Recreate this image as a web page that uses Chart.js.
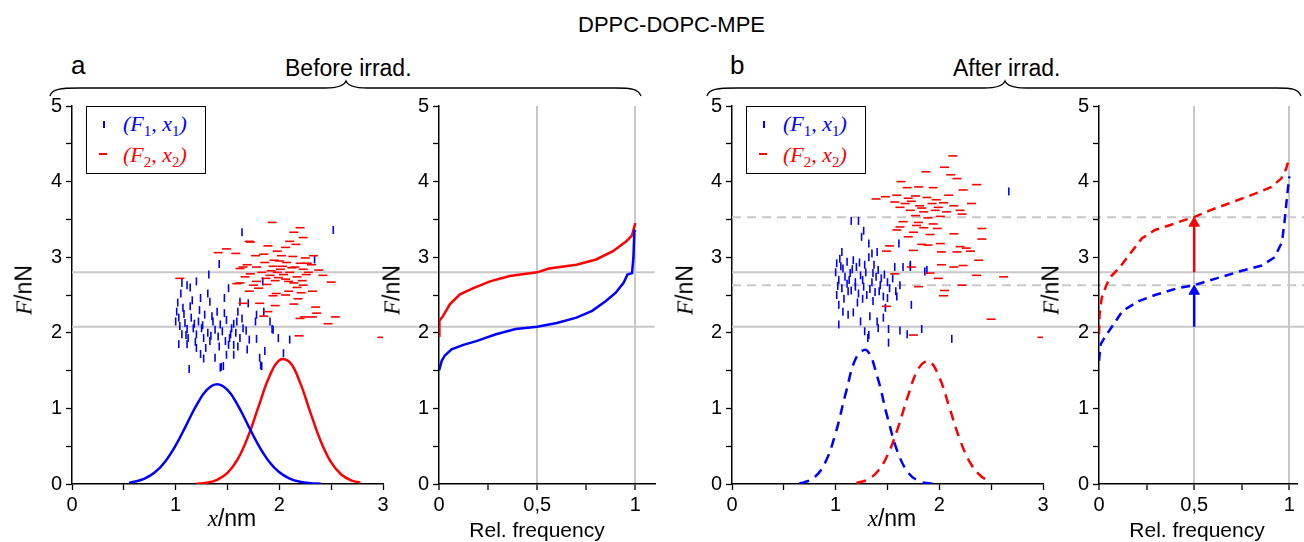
<!DOCTYPE html>
<html>
<head>
<meta charset="utf-8">
<script src="https://cdn.jsdelivr.net/npm/chart.js@4.4.1/dist/chart.umd.min.js"></script>
<style>
  body { margin: 0; width: 1304px; height: 542px; background: #fff; position: relative; overflow: hidden;
         font-family: "Liberation Sans", Arial, sans-serif; color: #000; }
  .abs { position: absolute; }
  .lbl { position: absolute; line-height: 1; white-space: nowrap; }
  .serif { font-family: "Liberation Serif", "Times New Roman", serif; font-style: italic; }
  .ytitle { transform: translate(-50%, -50%) rotate(-90deg); font-size: 23px; }
  .xtitle { transform: translateX(-50%); }
  .legend { position: absolute; width: 118px; height: 66px; border: 1.3px solid #000; background: #fff; }
  .legend .row { position: absolute; left: 36px; font-size: 22px; line-height: 1; }
  .legend sub { font-style: normal; font-size: 15px; vertical-align: -5px; }
  .mk1 { position: absolute; left: 16px; top: 14px; width: 2px; height: 7px; background: #0000ff; }
  .mk2 { position: absolute; left: 12px; top: 46px; width: 8px; height: 2px; background: #ff0000; }
</style>
</head>
<body>

<div class="lbl" style="left:578px; top:14px; font-size:22px;">DPPC-DOPC-MPE</div>
<div class="lbl" style="left:71px; top:52px; font-size:26px;">a</div>
<div class="lbl" style="left:730px; top:52px; font-size:26px;">b</div>
<div class="lbl" style="left:285px; top:57px; font-size:23px;">Before irrad.</div>
<div class="lbl" style="left:953px; top:57px; font-size:23px;">After irrad.</div>

<svg class="abs" style="left:0; top:0;" width="1304" height="542">
  <path d="M50,96 C52,89 60,88 80,88 L325,88 C338,88 344,86 346,81 C348,86 354,88 367,88 L615,88 C632,88 638,89 641,96"
        fill="none" stroke="#000" stroke-width="1.3"/>
  <path d="M707,96 C709,89 717,88 737,88 L984,88 C997,88 1003,86 1005,81 C1007,86 1013,88 1026,88 L1276,88 C1293,88 1298,89 1301,96"
        fill="none" stroke="#000" stroke-width="1.3"/>
</svg>

<div class="abs" style="left:0; top:90px;"><canvas id="aLeft" width="660" height="440"></canvas></div>
<div class="abs" style="left:390px; top:90px;"><canvas id="aRight" width="270" height="440"></canvas></div>
<div class="abs" style="left:680px; top:90px;"><canvas id="bLeft" width="624" height="440"></canvas></div>
<div class="abs" style="left:1050px; top:90px;"><canvas id="bRight" width="254" height="440"></canvas></div>

<div class="legend" style="left:86px; top:106px;">
  <div class="mk1"></div><div class="row serif" style="top:6px; color:#0000ff;">(F<sub>1</sub>, x<sub>1</sub>)</div>
  <div class="mk2"></div><div class="row serif" style="top:37px; color:#ff0000;">(F<sub>2</sub>, x<sub>2</sub>)</div>
</div>
<div class="legend" style="left:746px; top:106px;">
  <div class="mk1"></div><div class="row serif" style="top:6px; color:#0000ff;">(F<sub>1</sub>, x<sub>1</sub>)</div>
  <div class="mk2"></div><div class="row serif" style="top:37px; color:#ff0000;">(F<sub>2</sub>, x<sub>2</sub>)</div>
</div>

<div class="lbl ytitle" style="left:24px; top:290px;"><span class="serif">F</span>/nN</div>
<div class="lbl ytitle" style="left:392px; top:290px;"><span class="serif">F</span>/nN</div>
<div class="lbl ytitle" style="left:685px; top:290px;"><span class="serif">F</span>/nN</div>
<div class="lbl ytitle" style="left:1051px; top:290px;"><span class="serif">F</span>/nN</div>
<div class="lbl xtitle" style="left:232px; top:507px; font-size:23px;"><span class="serif">x</span>/nm</div>
<div class="lbl xtitle" style="left:892px; top:507px; font-size:23px;"><span class="serif">x</span>/nm</div>
<div class="lbl xtitle" style="left:537px; top:519px; font-size:21px;">Rel. frequency</div>
<div class="lbl xtitle" style="left:1197px; top:519px; font-size:21px;">Rel. frequency</div>

<script>
// ---- data ----
// reference force levels (nN)
const aSolidLevels = [2.08, 2.80];
const bSolidLevels = [2.08, 2.80];
const bDashedLevels = [2.63, 3.53];

// single events [x (nm), F (nN)], panel a (before irradiation)
const aF1 = [[1.64,3.33],[2.52,3.36],[2.34,2.97],[1.42,2.91],[1.32,2.77],[1.84,2.68],[1.20,2.68],[1.06,2.66],[1.11,2.63],[1.14,2.60],[1.51,2.59],[1.47,2.46],[1.31,2.52],[1.24,2.46],[1.33,2.41],[1.62,2.41],[1.70,2.39],[1.60,2.28],[1.78,2.24],[1.85,2.28],[1.91,2.15],[1.94,2.04],[1.99,1.93],[2.10,1.91],[1.86,1.76],[1.81,1.67],[1.82,1.57],[1.71,1.91],[1.78,1.92],[1.69,1.78],[1.56,1.71],[1.49,1.71],[1.44,1.55],[1.46,1.56],[1.27,1.66],[1.13,1.52],[1.03,1.85],[1.11,1.85],[1.20,1.80],[1.38,1.67],[2.04,1.73],[1.01,2.28],[1.03,2.20],[1.04,2.09],[1.06,1.98],[1.07,2.33],[1.09,2.13],[1.11,2.05],[1.12,1.93],[1.15,2.20],[1.17,2.06],[1.20,1.98],[1.22,2.15],[1.25,2.06],[1.27,1.93],[1.28,2.24],[1.31,2.00],[1.33,1.89],[1.36,2.15],[1.38,2.04],[1.40,2.28],[1.41,1.95],[1.43,2.11],[1.45,2.02],[1.48,1.89],[1.49,2.17],[1.52,1.93],[1.54,2.06],[1.56,1.84],[1.58,2.00],[1.59,2.15],[1.62,1.93],[1.65,2.06],[1.51,1.84],[1.29,1.80],[1.64,2.19],[1.77,2.15],[1.43,1.54],[1.93,2.05],[1.83,1.56],[1.02,2.40],[1.05,2.52],[1.08,2.25],[1.14,2.35],[1.18,2.12],[1.23,2.30],[1.35,2.22],[1.47,2.26],[1.56,2.12],[1.68,2.03],[1.10,1.97],[1.19,1.88],[1.26,2.10],[1.34,1.96],[1.42,1.82],[1.53,1.98],[1.60,1.82],[1.00,2.15],[1.16,2.43],[1.24,1.72]];
const aF2 = [[1.93,3.46],[2.20,3.39],[2.14,3.33],[2.23,3.26],[1.71,3.21],[2.10,3.21],[2.16,3.17],[1.89,3.15],[2.06,3.13],[1.49,3.11],[1.98,3.08],[1.41,3.06],[1.58,3.05],[2.33,3.02],[1.77,3.02],[1.85,3.04],[2.02,3.02],[2.13,3.01],[2.25,2.99],[1.95,2.96],[1.86,2.93],[2.07,2.93],[2.20,2.92],[1.69,2.90],[2.31,2.90],[1.78,2.87],[1.94,2.88],[2.03,2.88],[2.15,2.87],[1.62,2.85],[2.23,2.84],[2.38,2.83],[1.83,2.80],[1.98,2.80],[2.10,2.80],[2.28,2.80],[2.42,2.76],[1.72,2.78],[1.91,2.76],[2.04,2.77],[2.17,2.74],[1.67,2.74],[1.78,2.68],[1.96,2.69],[2.09,2.68],[2.22,2.69],[2.50,2.67],[1.62,2.66],[1.75,2.63],[1.88,2.64],[2.23,2.63],[1.80,2.59],[2.17,2.60],[1.71,2.55],[2.09,2.55],[2.21,2.53],[2.32,2.55],[1.97,2.52],[2.06,2.50],[1.94,2.49],[2.18,2.45],[1.65,2.39],[1.81,2.39],[1.96,2.36],[2.14,2.38],[2.35,2.34],[1.89,2.28],[2.36,2.26],[1.85,2.22],[2.20,2.19],[2.32,2.21],[2.54,2.21],[2.24,2.21],[2.47,2.12],[2.19,1.96],[1.04,2.72],[2.99,1.94],[1.59,2.65],[1.65,2.87],[1.72,3.20],[2.01,2.84],[2.12,2.86],[1.99,2.73],[2.26,2.77],[2.06,2.71],[1.92,2.82],[2.14,2.66],[2.00,2.95],[1.87,2.72],[2.27,2.92]];

// single events, panel b (after irradiation)
const bF1 = [[2.67,3.87],[1.15,3.48],[1.22,3.48],[1.27,3.35],[1.25,3.27],[1.32,3.18],[1.61,3.18],[1.06,3.07],[1.40,3.07],[1.35,3.05],[1.01,2.92],[1.04,2.98],[1.07,2.85],[1.11,2.94],[1.14,2.79],[1.17,2.96],[1.20,2.87],[1.24,2.76],[1.28,2.90],[1.32,3.00],[1.36,2.79],[1.41,2.83],[1.44,2.72],[1.03,2.70],[1.06,2.59],[1.11,2.65],[1.15,2.56],[1.19,2.67],[1.22,2.52],[1.27,2.61],[1.30,2.50],[1.35,2.67],[1.38,2.54],[1.43,2.63],[1.46,2.48],[1.50,2.67],[1.52,2.59],[1.57,2.87],[1.62,2.63],[1.65,2.87],[1.72,2.87],[1.86,2.81],[1.50,2.46],[1.59,2.48],[1.73,2.37],[1.01,2.50],[1.03,2.37],[1.07,2.28],[1.12,2.24],[1.17,2.27],[1.03,2.11],[1.24,2.15],[1.33,2.22],[1.40,2.15],[1.46,2.20],[1.28,2.02],[1.32,1.97],[1.51,2.05],[1.51,1.87],[1.62,2.03],[1.69,1.98],[1.83,2.05],[2.12,1.92],[1.41,2.06],[1.88,2.83],[1.31,1.93],[1.72,2.90],[1.00,2.80],[1.02,2.62],[1.05,2.88],[1.09,2.74],[1.13,2.70],[1.16,2.84],[1.19,2.61],[1.23,2.93],[1.26,2.70],[1.29,2.80],[1.33,2.58],[1.37,2.90],[1.39,2.74],[1.42,2.55],[1.47,2.77],[1.55,2.72],[1.58,2.55],[1.08,2.45],[1.21,2.40],[1.36,2.42],[1.48,2.33],[1.12,2.55],[1.26,2.45]];
const bF2 = [[2.13,4.34],[2.05,4.19],[1.87,4.13],[2.11,4.09],[2.17,4.04],[1.63,4.00],[2.36,3.96],[1.69,3.92],[1.80,3.93],[1.94,3.92],[2.23,3.89],[1.39,3.77],[1.48,3.80],[1.59,3.82],[1.77,3.81],[1.88,3.79],[1.97,3.76],[2.09,3.82],[2.31,3.71],[1.57,3.73],[1.67,3.71],[1.73,3.74],[1.81,3.68],[1.93,3.71],[2.04,3.72],[2.14,3.68],[1.62,3.66],[1.72,3.62],[1.85,3.60],[1.96,3.62],[2.07,3.60],[2.22,3.57],[1.77,3.55],[1.89,3.52],[2.01,3.54],[1.65,3.47],[1.80,3.46],[1.94,3.44],[1.62,3.40],[1.85,3.39],[2.41,3.38],[2.14,3.31],[1.59,3.36],[1.75,3.33],[2.41,3.24],[1.52,3.15],[1.83,3.17],[1.89,3.16],[2.01,3.18],[2.20,3.14],[2.26,3.12],[1.49,3.08],[1.75,3.09],[2.02,3.07],[2.17,3.07],[2.30,3.08],[2.38,2.96],[2.02,2.90],[2.14,2.87],[2.23,2.89],[1.73,2.87],[1.91,2.79],[1.57,2.78],[1.99,2.72],[2.36,2.76],[2.62,2.74],[1.80,2.61],[2.22,2.63],[2.05,2.56],[2.04,2.49],[1.49,2.35],[2.50,2.18],[1.75,1.97],[2.99,1.94],[2.20,3.62],[1.70,3.78],[1.83,3.65],[1.99,3.66],[1.78,3.42],[1.91,3.30],[1.98,3.38],[1.70,3.27]];

// distributions of x (curves under the scatter), [x, value]
const aFit1 = [[0.55,0.018],[0.6,0.029],[0.7,0.072],[0.8,0.155],[0.9,0.299],[1.0,0.51],[1.1,0.773],[1.2,1.04],[1.3,1.244],[1.4,1.32],[1.5,1.244],[1.6,1.04],[1.7,0.773],[1.8,0.51],[1.9,0.299],[2.0,0.155],[2.1,0.072],[2.2,0.029],[2.3,0.011],[2.4,0.004]];
const aFit2 = [[1.2,0.005],[1.3,0.017],[1.4,0.055],[1.5,0.146],[1.6,0.331],[1.7,0.634],[1.8,1.027],[1.9,1.41],[2.0,1.638],[2.1,1.611],[2.2,1.341],[2.3,0.945],[2.4,0.564],[2.5,0.285],[2.6,0.122],[2.7,0.044],[2.78,0.017]];
const bFit1 = [[0.65,0.01],[0.7,0.023],[0.8,0.093],[0.9,0.286],[1.0,0.674],[1.1,1.216],[1.2,1.676],[1.3,1.768],[1.4,1.427],[1.5,0.881],[1.6,0.416],[1.7,0.15],[1.8,0.041],[1.9,0.009],[2.0,0.002]];
const bFit2 = [[1.2,0.015],[1.3,0.055],[1.4,0.159],[1.5,0.38],[1.6,0.739],[1.7,1.175],[1.8,1.528],[1.9,1.623],[2.0,1.41],[2.1,1.0],[2.2,0.58],[2.3,0.275],[2.4,0.106],[2.5,0.034]];

// sorted forces vs relative frequency, [rel. freq, F]
const aCum1 = [[0,1.50],[0.014,1.63],[0.03,1.70],[0.064,1.78],[0.124,1.84],[0.19,1.89],[0.29,1.98],[0.39,2.05],[0.5,2.08],[0.6,2.13],[0.7,2.20],[0.78,2.29],[0.85,2.42],[0.9,2.53],[0.94,2.66],[0.96,2.77],[0.983,2.79],[0.99,2.99],[0.995,3.34],[1.0,3.36]];
const aCum2 = [[0,1.96],[0.002,2.16],[0.02,2.22],[0.056,2.38],[0.107,2.51],[0.175,2.59],[0.26,2.68],[0.36,2.75],[0.5,2.80],[0.56,2.85],[0.7,2.90],[0.8,2.97],[0.886,3.08],[0.954,3.21],[0.983,3.29],[0.99,3.36],[1.0,3.45]];
const bCum1 = [[0,1.63],[0.009,1.85],[0.03,1.94],[0.065,2.07],[0.124,2.29],[0.209,2.42],[0.294,2.50],[0.413,2.59],[0.5,2.63],[0.617,2.72],[0.736,2.81],[0.855,2.89],[0.923,3.00],[0.961,3.20],[0.974,3.46],[0.988,3.81],[1.0,4.07]];
const bCum2 = [[0,1.98],[0.003,2.24],[0.014,2.46],[0.04,2.64],[0.065,2.75],[0.107,2.86],[0.158,3.03],[0.226,3.25],[0.294,3.36],[0.379,3.43],[0.447,3.49],[0.5,3.53],[0.583,3.62],[0.702,3.73],[0.82,3.84],[0.906,3.93],[0.957,4.04],[0.983,4.17],[1.0,4.32]];

// shift arrows at median, [x, from F, to F]
const blueArrow = [0.5, 2.08, 2.63];
const redArrow = [0.5, 2.80, 3.53];

const BLUE = "#0000ff";
const RED = "#ff0000";
const GREY = "#c8c8c8";
const tickFont = { family: "'Liberation Sans', Arial, sans-serif", size: 20 };

const pts = arr => arr.map(p => ({ x: p[0], y: p[1] }));

// --- helpers for datasets ---
function levelLine(level, xEnd, dashed) {
    return {
        data: [{ x: 0, y: level }, { x: xEnd, y: level }],
        showLine: true, borderColor: GREY, borderWidth: 2,
        borderDash: dashed ? [9, 6] : [], pointRadius: 0,
        clip: false, order: 10
    };
}

function curve(arr, color, dash, tension) {
    return {
        data: pts(arr), showLine: true, borderColor: color, borderWidth: 2.5,
        borderDash: dash || [], pointRadius: 0, tension: tension, order: 2
    };
}

function events(arr, color, vertical) {
    return {
        data: pts(arr), pointStyle: "line", rotation: vertical ? 90 : 0,
        pointRadius: vertical ? 4 : 4.5, borderColor: color, borderWidth: 1.6,
        backgroundColor: color, order: 1
    };
}

function arrow(a, color) {
    // head sits a bit below the tip, triangle radius 6 px
    const head = a[2] - 0.08;
    return {
        data: [{ x: a[0], y: a[1] }, { x: a[0], y: head }],
        showLine: true, borderColor: color, borderWidth: 2.5,
        pointStyle: "triangle", pointRadius: [0, 6], pointBorderWidth: 1,
        backgroundColor: color, order: 0
    };
}

// --- scales ---
function yScale(width) {
    return {
        type: "linear", min: 0, max: 5,
        ticks: {
            stepSize: 0.5, autoSkip: false, includeBounds: false, color: "#000", font: tickFont, padding: 4,
            callback: v => Number.isInteger(v) ? String(v) : ""
        },
        grid: { drawOnChartArea: false, tickLength: 6, tickColor: "#000", tickWidth: 1.3 },
        border: { color: "#000", width: 1.5 },
        afterFit: s => { s.width = width; }
    };
}

function xScaleNm() {
    return {
        type: "linear", min: 0, max: 3,
        ticks: {
            stepSize: 0.5, autoSkip: false, maxRotation: 0, includeBounds: false, color: "#000", font: tickFont, padding: 3,
            callback: v => Number.isInteger(v) ? String(v) : ""
        },
        grid: { drawOnChartArea: false, tickLength: 6, tickColor: "#000", tickWidth: 1.3 },
        border: { color: "#000", width: 1.5 },
        afterFit: s => { s.height = 46; }
    };
}

function xScaleFreq(max) {
    return {
        type: "linear", min: 0, max: max,
        ticks: {
            stepSize: 0.25, autoSkip: false, maxRotation: 0, includeBounds: false, color: "#000", font: tickFont, padding: 3,
            callback: v => v === 0 ? "0" : v === 0.5 ? "0,5" : v === 1 ? "1" : ""
        },
        grid: {
            drawOnChartArea: true, lineWidth: 2,
            color: c => (c.tick && (c.tick.value === 0.5 || c.tick.value === 1)) ? GREY : "rgba(0,0,0,0)",
            tickLength: 6, tickColor: "#000", tickWidth: 1.3
        },
        border: { color: "#000", width: 1.5 },
        afterFit: s => { s.height = 46; }
    };
}

function makeChart(id, datasets, xs, yWidth, padRight) {
    return new Chart(document.getElementById(id), {
        type: "scatter",
        data: { datasets: datasets },
        options: {
            responsive: false, animation: false, events: [],
            layout: { padding: { top: 13, right: padRight, bottom: 0, left: 0 } },
            plugins: { legend: { display: false }, tooltip: { enabled: false } },
            scales: { x: xs, y: yScale(yWidth) }
        }
    });
}

// panel a, left: events + x distributions (level lines run across into the right panel)
makeChart("aLeft", [
    ...aSolidLevels.map(l => levelLine(l, 5.62, false)),
    curve(aFit1, BLUE, null, 0.4),
    curve(aFit2, RED, null, 0.4),
    events(aF2, RED, false),
    events(aF1, BLUE, true)
], xScaleNm(), 72, 277);

// panel a, right: sorted forces
makeChart("aRight", [
    curve(aCum1, BLUE, null, 0),
    curve(aCum2, RED, null, 0)
], xScaleFreq(1.1), 49, 5);

// panel b, left
makeChart("bLeft", [
    ...bSolidLevels.map(l => levelLine(l, 5.52, false)),
    ...bDashedLevels.map(l => levelLine(l, 5.52, true)),
    curve(bFit1, BLUE, [10, 7], 0.4),
    curve(bFit2, RED, [10, 7], 0.4),
    events(bF2, RED, false),
    events(bF1, BLUE, true)
], xScaleNm(), 52, 261);

// panel b, right
makeChart("bRight", [
    curve(bCum1, BLUE, [9, 6], 0),
    curve(bCum2, RED, [9, 6], 0),
    arrow(blueArrow, BLUE),
    arrow(redArrow, RED)
], xScaleFreq(1.04), 49, 0);
</script>
</body>
</html>
